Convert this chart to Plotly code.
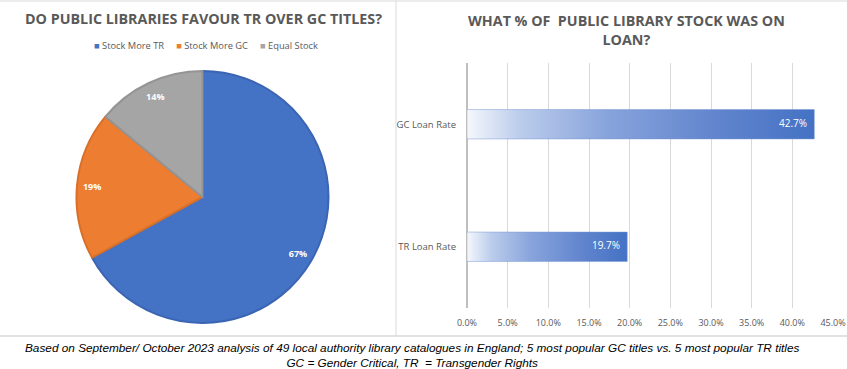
import plotly.graph_objects as go

# ---- data ----
pie_labels = ["Stock More TR", "Stock More GC", "Equal Stock"]
pie_values = [67, 19, 14]
pie_colors = ["#4472C4", "#ED7D31", "#A5A5A5"]
pie_edge = ["#3B65B3", "#D9702A", "#949494"]

bar_categories = ["TR Loan Rate", "GC Loan Rate"]
bar_values = [19.7, 42.7]
x_ticks = [0, 5, 10, 15, 20, 25, 30, 35, 40, 45]

W, H = 847, 369
def px_x(v): return v / W
def px_y(v): return 1 - v / H

pie_domain = dict(x=[px_x(76), px_x(329)], y=[px_y(323), px_y(71)])

fig = go.Figure()

# filled pie slices
fig.add_trace(go.Pie(
    labels=pie_labels, values=pie_values, sort=False, direction="clockwise", rotation=0,
    marker=dict(colors=pie_colors, line=dict(color=pie_edge, width=2)),
    textinfo="none", domain=pie_domain, showlegend=False, hoverinfo="label+percent",
))
# transparent ring overlay that carries the percentage labels near the rim
fig.add_trace(go.Pie(
    labels=pie_labels, values=pie_values, sort=False, direction="clockwise", rotation=0,
    hole=0.76, marker=dict(colors=["rgba(0,0,0,0)"] * 3, line=dict(width=0)),
    textinfo="percent", texttemplate="%{percent:.0%}", textposition="inside",
    insidetextorientation="horizontal",
    textfont=dict(color="white", size=9, family="Open Sans", weight="bold"),
    domain=pie_domain, showlegend=False, hoverinfo="skip",
))

bar_half = 0.12
scale = [[0, "#f5f8fd"], [0.15, "#bccdec"], [0.4, "#88a4dc"], [0.7, "#6386ce"], [1, "#4472C4"]]
for i, (cat, val) in enumerate(zip(bar_categories, bar_values)):
    fig.add_trace(go.Scatter(
        x=[0, val, val, 0, 0], y=[i - bar_half, i - bar_half, i + bar_half, i + bar_half, i - bar_half],
        mode="lines", fill="toself", line=dict(width=0.8, color="rgba(120,150,210,0.6)"),
        fillgradient=dict(type="horizontal", colorscale=scale),
        xaxis="x", yaxis="y", showlegend=False, hoverinfo="skip",
    ))
fig.add_trace(go.Scatter(
    x=bar_values, y=list(range(len(bar_categories))), mode="markers+text",
    marker=dict(size=10, opacity=0),
    text=[f"{v:.1f}%" for v in bar_values], textposition="middle left",
    textfont=dict(color="white", size=10, family="Open Sans"),
    xaxis="x", yaxis="y", showlegend=False, hoverinfo="skip",
))

legend_text = "&nbsp;&nbsp;&nbsp;&nbsp;&nbsp;".join(
    f"<span style='color:{c}'>■</span> {l}" for l, c in zip(pie_labels, pie_colors))

fig.update_layout(
    width=W, height=H, margin=dict(l=0, r=0, t=0, b=0),
    paper_bgcolor="white", plot_bgcolor="white",
    font=dict(family="Open Sans", color="#595959"),
    showlegend=False,
    xaxis=dict(domain=[px_x(467), px_x(833)], range=[0, 45], tickvals=x_ticks,
               ticktext=[f"{t:.1f}%" for t in x_ticks], showgrid=True, gridcolor="#D9D9D9",
               gridwidth=1, zeroline=True, zerolinecolor="#BFBFBF", zerolinewidth=1.5,
               showline=False, ticks="", tickfont=dict(size=9, color="#595959"),
               anchor="y", ticklabelstandoff=8, automargin=False),
    yaxis=dict(domain=[px_y(308), px_y(63)], range=[-0.5, 1.5], tickvals=[0, 1],
               ticktext=bar_categories, showgrid=False, zeroline=False, showline=False,
               ticks="", tickfont=dict(size=9.5, color="#595959"), anchor="x",
               ticklabelstandoff=10, automargin=False),
    shapes=[
        dict(type="line", xref="paper", yref="paper", x0=px_x(396), x1=px_x(396), y0=px_y(0), y1=px_y(336),
             line=dict(color="#D9D9D9", width=1)),
        dict(type="line", xref="paper", yref="paper", x0=0, x1=1, y0=px_y(336), y1=px_y(336),
             line=dict(color="#D9D9D9", width=1.5)),
        dict(type="line", xref="paper", yref="paper", x0=0, x1=1, y0=px_y(1), y1=px_y(1),
             line=dict(color="#E6E6E6", width=1.5)),
    ],
    annotations=[
        dict(text="<b>DO PUBLIC LIBRARIES FAVOUR TR OVER GC TITLES?</b>", x=px_x(203), y=px_y(19),
             xref="paper", yref="paper", showarrow=False, xanchor="center", yanchor="middle",
             font=dict(size=14.3, color="#595959", family="Open Sans")),
        dict(text=legend_text, x=px_x(206), y=px_y(45), xref="paper", yref="paper",
             showarrow=False, xanchor="center", yanchor="middle",
             font=dict(size=9.3, color="#595959", family="Open Sans")),
        dict(text="<b>WHAT % OF &nbsp;PUBLIC LIBRARY STOCK WAS ON<br>LOAN?</b>", x=px_x(626), y=px_y(30),
             xref="paper", yref="paper", showarrow=False, xanchor="center", yanchor="middle",
             font=dict(size=14.3, color="#595959", family="Open Sans")),
        dict(text="<i>Based on September/ October 2023 analysis of 49 local authority library catalogues in England; 5 most popular GC titles vs. 5 most popular TR titles<br>GC = Gender Critical, TR &nbsp;= Transgender Rights</i>",
             x=px_x(412), y=px_y(355), xref="paper", yref="paper", showarrow=False,
             xanchor="center", yanchor="middle",
             font=dict(size=11.8, color="black", family="Liberation Sans")),
    ],
)

fig.write_html("out.html", config={"displayModeBar": False},
               post_script="document.body.style.margin='0';document.body.style.padding='0';")
